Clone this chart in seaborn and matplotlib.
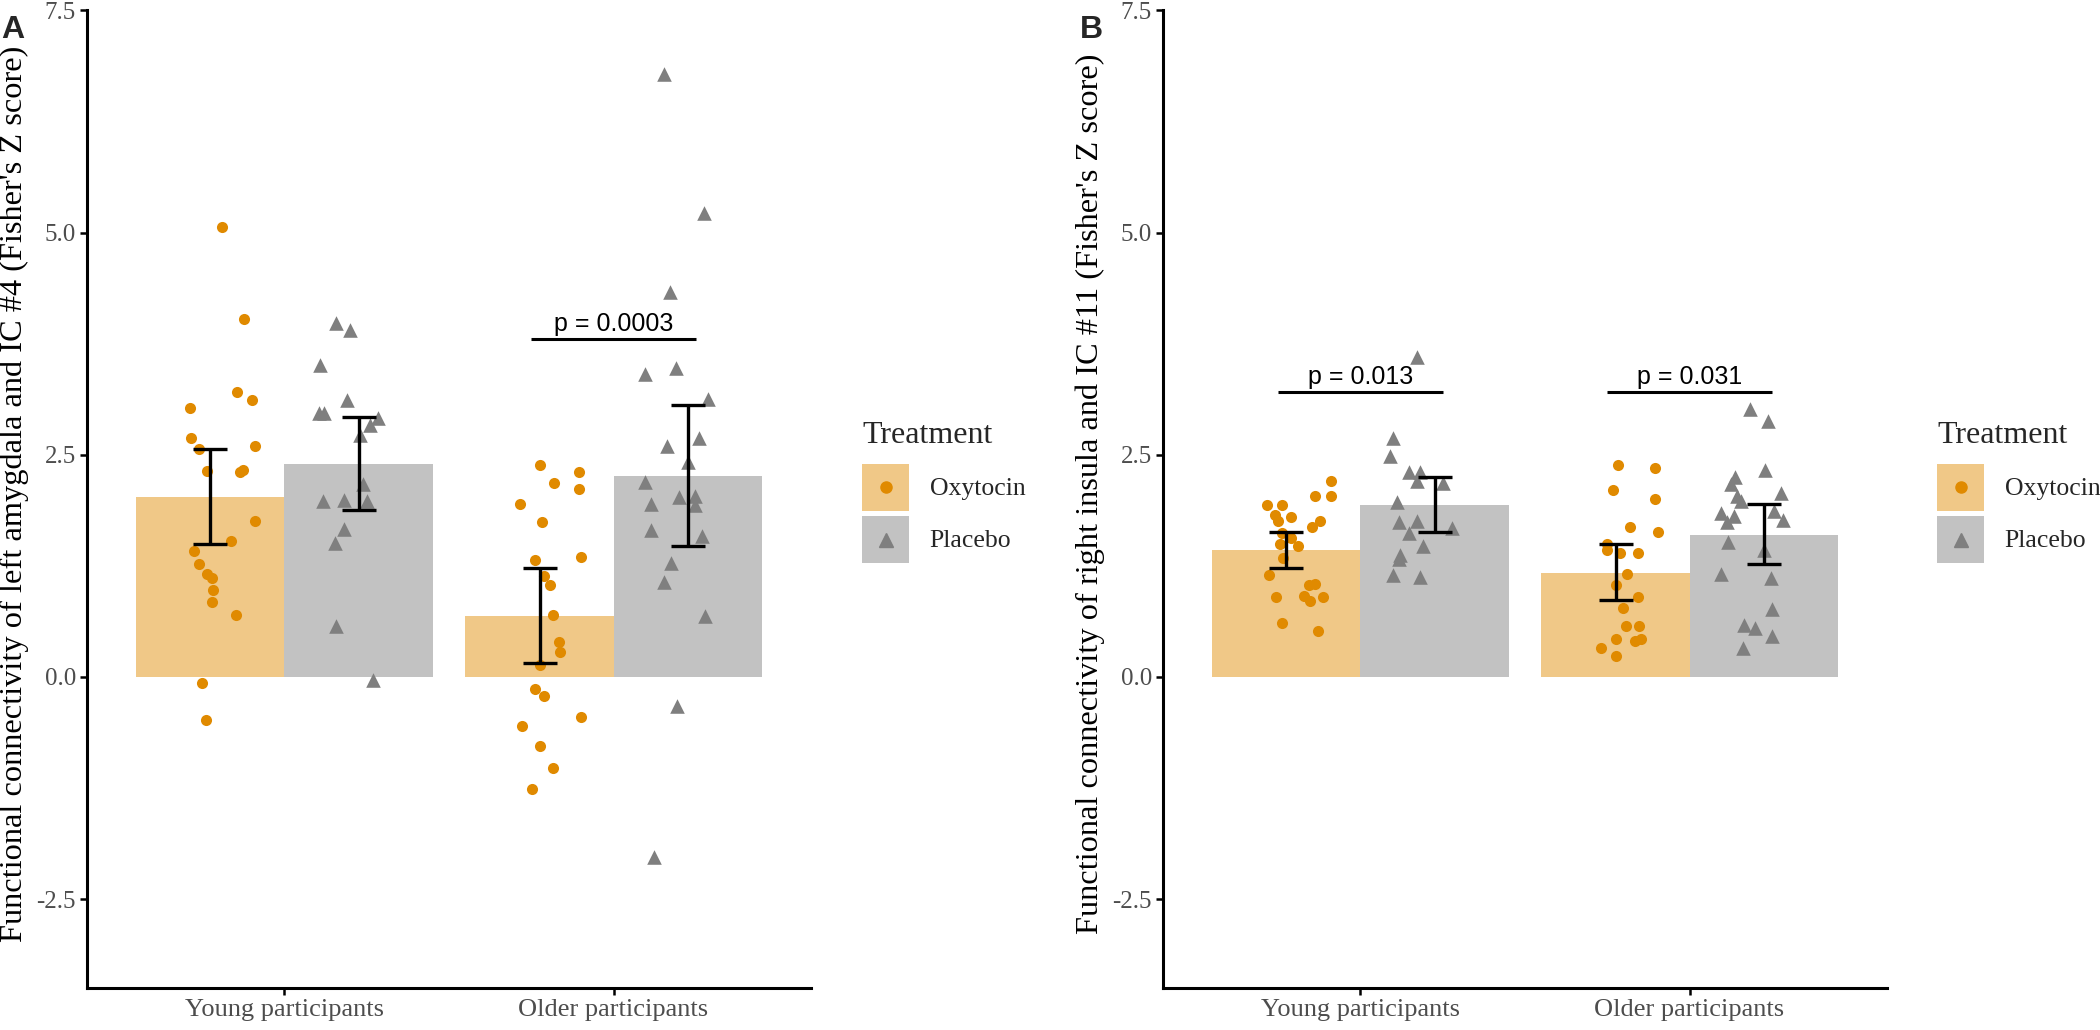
import numpy as np
import pandas as pd
import matplotlib
matplotlib.use("Agg")
import matplotlib.pyplot as plt
import seaborn as sns
from matplotlib.patches import Rectangle
from matplotlib.lines import Line2D
from matplotlib.legend_handler import HandlerBase

# ---------------- data ----------------
groups = ["Young participants", "Older participants"]
treatments = ["Oxytocin", "Placebo"]
yticks = [-2.5, 0.0, 2.5, 5.0, 7.5]

# Panel A: bar means and error-bar bounds (order: young, older)
a_mean_oxy = [2.02, 0.69]
a_mean_pla = [2.40, 2.26]
a_lo_oxy = [1.50, 0.16]
a_hi_oxy = [2.56, 1.23]
a_lo_pla = [1.88, 1.47]
a_hi_pla = [2.92, 3.06]

# Panel A individual points (values and horizontal jitter as fraction of bar width)
a_young_oxy = [5.06, 4.03, 3.20, 3.11, 3.03, 2.69, 2.56, 2.60, 2.32, 2.30, 2.33,
               1.75, 1.53, 1.42, 1.27, 1.16, 1.11, 0.98, 0.84, 0.70, -0.07, -0.48]
a_young_oxy_jit = [0.08, 0.23, 0.18, 0.28, -0.14, -0.13, -0.08, 0.30, -0.02, 0.20, 0.22,
                   0.30, 0.14, -0.11, -0.08, -0.02, 0.01, 0.02, 0.01, 0.17, -0.06, -0.03]
a_young_pla = [3.98, 3.90, 3.51, 3.11, 2.97, 2.97, 2.91, 2.83, 2.72, 2.17, 1.98,
               1.99, 1.98, 1.66, 1.51, 0.57, -0.03]
a_young_pla_jit = [-0.15, -0.06, -0.26, -0.08, -0.27, -0.23, 0.13, 0.08, 0.01, 0.03, -0.24,
                   -0.10, 0.06, -0.10, -0.16, -0.15, 0.10]
a_older_oxy = [2.38, 2.31, 2.18, 2.11, 1.95, 1.74, 1.32, 1.35, 1.14, 1.03, 0.70,
               0.39, 0.28, 0.13, -0.14, -0.21, -0.45, -0.55, -0.78, -1.02, -1.26]
a_older_oxy_jit = [0.00, 0.27, 0.10, 0.27, -0.13, 0.02, -0.03, 0.28, 0.03, 0.07, 0.09,
                   0.13, 0.14, 0.00, -0.03, 0.03, 0.28, -0.12, 0.00, 0.09, -0.05]
a_older_pla = [6.78, 5.22, 4.33, 3.41, 3.47, 3.13, 2.69, 2.60, 2.42, 2.19, 2.02,
               2.03, 1.95, 1.93, 1.65, 1.59, 1.28, 1.07, 0.68, -0.33, -2.03]
a_older_pla_jit = [-0.16, 0.11, -0.12, -0.29, -0.08, 0.14, 0.08, -0.14, 0.00, -0.29, -0.06,
                   0.05, -0.25, 0.05, -0.25, 0.10, -0.11, -0.16, 0.12, -0.07, -0.23]

# Panel B
b_mean_oxy = [1.43, 1.17]
b_mean_pla = [1.93, 1.60]
b_lo_oxy = [1.22, 0.87]
b_hi_oxy = [1.63, 1.49]
b_lo_pla = [1.63, 1.27]
b_hi_pla = [2.25, 1.94]

b_young_oxy = [2.20, 2.03, 2.03, 1.93, 1.93, 1.82, 1.80, 1.75, 1.75, 1.69, 1.62, 1.56,
               1.50, 1.47, 1.34, 1.15, 1.03, 1.05, 0.90, 0.91, 0.90, 0.85, 0.61, 0.52]
b_young_oxy_jit = [0.30, 0.19, 0.30, -0.13, -0.03, -0.08, 0.03, -0.06, 0.23, 0.17, -0.03, 0.03,
                   -0.04, 0.08, -0.02, -0.12, 0.15, 0.19, -0.07, 0.12, 0.25, 0.16, -0.03, 0.21]
b_young_pla = [3.60, 2.69, 2.48, 2.31, 2.31, 2.20, 2.18, 1.97, 1.74, 1.75, 1.62, 1.67,
               1.47, 1.37, 1.33, 1.15, 1.12]
b_young_pla_jit = [-0.12, -0.28, -0.30, -0.17, -0.10, -0.12, 0.06, -0.25, -0.24, -0.12, -0.17, 0.12,
                   -0.08, -0.23, -0.24, -0.28, -0.10]
b_older_oxy = [2.38, 2.35, 2.10, 2.00, 1.69, 1.63, 1.50, 1.43, 1.39, 1.39, 1.16,
               1.03, 0.90, 0.78, 0.57, 0.57, 0.43, 0.40, 0.43, 0.33, 0.24]
b_older_oxy_jit = [0.02, 0.27, -0.02, 0.27, 0.10, 0.29, -0.06, -0.06, 0.03, 0.15, 0.08,
                   0.00, 0.15, 0.05, 0.07, 0.16, 0.00, 0.13, 0.17, -0.10, 0.00]
b_older_pla = [3.01, 2.88, 2.33, 2.25, 2.17, 2.07, 2.03, 1.98, 1.87, 1.84, 1.81,
               1.76, 1.74, 1.52, 1.43, 1.16, 1.11, 0.76, 0.58, 0.55, 0.46, 0.32]
b_older_pla_jit = [-0.09, 0.03, 0.01, -0.19, -0.22, 0.12, -0.18, -0.15, 0.07, -0.29, -0.20,
                   0.13, -0.25, -0.24, 0.00, -0.29, 0.05, 0.06, -0.13, -0.06, 0.06, -0.14]

# significance annotations (per group)
a_ptext = [None, "p = 0.0003"]
a_pline = [None, 3.80]
b_ptext = ["p = 0.013", "p = 0.031"]
b_pline = [3.20, 3.20]

a_ylabel = "Functional connectivity of left amygdala and IC #4 (Fisher's Z score)"
b_ylabel = "Functional connectivity of right insula and IC #11 (Fisher's Z score)"

# ---------------- style ----------------
ORANGE_PT = "#E08A00"
ORANGE_BAR = "#F0C887"
GRAY_PT = "#7F7F7F"
GRAY_BAR = "#C2C2C2"
TICK_COL = "#4D4D4D"

sns.set_style("ticks")
plt.rcParams["font.family"] = ["Liberation Serif", "DejaVu Serif"]
plt.rcParams["axes.unicode_minus"] = False

W, H = 2100, 1030
fig = plt.figure(figsize=(W / 100, H / 100), dpi=100)

ax_bottom = 1 - 988 / H
ax_height = (988 - 10.3) / H
ax_w = 724 / W
axA = fig.add_axes([87 / W, ax_bottom, ax_w, ax_height])
axB = fig.add_axes([1163 / W, ax_bottom, ax_w, ax_height])


class Key:
    def __init__(self, face, mcol, marker, ms):
        self.spec = (face, mcol, marker, ms)


class KeyHandler(HandlerBase):
    def create_artists(self, legend, orig_handle, xdescent, ydescent, width, height, fontsize, trans):
        face, mcol, mk, ms = orig_handle.spec
        r = Rectangle((-xdescent, -ydescent), width, height, facecolor=face,
                      edgecolor="none", transform=trans)
        m = Line2D([-xdescent + width / 2], [-ydescent + height / 2], marker=mk,
                   color=mcol, markersize=ms, linestyle="none", transform=trans)
        return [r, m]


def draw_panel(ax, mean_oxy, mean_pla, lo_oxy, hi_oxy, lo_pla, hi_pla, pts, ylabel,
               ptext, pline, legend_x):
    df = pd.DataFrame({
        "group": groups + groups,
        "treatment": ["Oxytocin"] * 2 + ["Placebo"] * 2,
        "value": list(mean_oxy) + list(mean_pla),
    })
    sns.barplot(data=df, x="group", y="value", hue="treatment", order=groups,
                hue_order=treatments, palette=[ORANGE_BAR, GRAY_BAR], saturation=1,
                width=0.9, errorbar=None, legend=False, linewidth=0, ax=ax, zorder=1)
    means = {"Oxytocin": mean_oxy, "Placebo": mean_pla}
    los = {"Oxytocin": lo_oxy, "Placebo": lo_pla}
    his = {"Oxytocin": hi_oxy, "Placebo": hi_pla}
    style = {"Oxytocin": ("o", 64, ORANGE_PT), "Placebo": ("^", 110, GRAY_PT)}
    for ti, t in enumerate(treatments):
        for gi, g in enumerate(groups):
            bar = ax.containers[ti][gi]
            w = bar.get_width()
            cx = bar.get_x() + w / 2
            vals, jit = pts[(g, t)]
            mk, s, col = style[t]
            ax.scatter(cx + np.asarray(jit) * w, vals, marker=mk, s=s, color=col,
                       linewidths=0, zorder=3)
            m = means[t][gi]
            ax.errorbar([cx], [m], yerr=[[m - los[t][gi]], [his[t][gi] - m]], fmt="none",
                        ecolor="black", elinewidth=2.4, capsize=12, capthick=2.4, zorder=4)
    for gi in range(len(groups)):
        if ptext[gi] is None:
            continue
        ax.plot([gi - 0.25, gi + 0.25], [pline[gi], pline[gi]], color="black", lw=2.2,
                solid_capstyle="butt", zorder=5)
        ax.text(gi, pline[gi] + 0.09, ptext[gi], ha="center", va="baseline",
                fontsize=18, family=["Liberation Sans", "DejaVu Sans"], color="black")

    ax.set_xlim(-0.6, 1.6)
    ax.set_ylim(-3.5, 7.5)
    ax.set_yticks(yticks)
    ax.set_yticklabels([f"{v:.1f}" for v in yticks])
    ax.set_xlabel("")
    ax.set_ylabel(ylabel, fontsize=23.3, color="black")
    ax.yaxis.set_label_coords(-0.080, 0.505)
    sns.despine(ax=ax)
    for sp in ("left", "bottom"):
        ax.spines[sp].set_linewidth(2.2)
        ax.spines[sp].set_color("black")
    ax.tick_params(axis="both", length=5, width=1.8, color="black", labelcolor=TICK_COL,
                   direction="out", pad=3)
    ax.tick_params(axis="x", labelsize=19)
    ax.tick_params(axis="y", labelsize=18)

    handles = [Key(ORANGE_BAR, ORANGE_PT, "o", 8), Key(GRAY_BAR, GRAY_PT, "^", 10.5)]
    leg = fig.legend(handles, treatments, handler_map={Key: KeyHandler()},
                     loc="upper left", bbox_to_anchor=(legend_x / W, 1 - 421 / H),
                     bbox_transform=fig.transFigure, frameon=False, borderpad=0,
                     borderaxespad=0, title="Treatment", title_fontsize=23, fontsize=18.5,
                     handlelength=1.83, handleheight=2.44, labelspacing=0.2,
                     handletextpad=0.8, alignment="left")
    leg._legend_box.sep = 10


draw_panel(axA, a_mean_oxy, a_mean_pla, a_lo_oxy, a_hi_oxy, a_lo_pla, a_hi_pla,
           {(groups[0], "Oxytocin"): (a_young_oxy, a_young_oxy_jit),
            (groups[0], "Placebo"): (a_young_pla, a_young_pla_jit),
            (groups[1], "Oxytocin"): (a_older_oxy, a_older_oxy_jit),
            (groups[1], "Placebo"): (a_older_pla, a_older_pla_jit)},
           a_ylabel, a_ptext, a_pline, 862)
draw_panel(axB, b_mean_oxy, b_mean_pla, b_lo_oxy, b_hi_oxy, b_lo_pla, b_hi_pla,
           {(groups[0], "Oxytocin"): (b_young_oxy, b_young_oxy_jit),
            (groups[0], "Placebo"): (b_young_pla, b_young_pla_jit),
            (groups[1], "Oxytocin"): (b_older_oxy, b_older_oxy_jit),
            (groups[1], "Placebo"): (b_older_pla, b_older_pla_jit)},
           b_ylabel, b_ptext, b_pline, 1937)

for x, lab in ((1, "A"), (1080, "B")):
    fig.text(x / W, 1 - 38 / H, lab, ha="left", va="baseline", fontsize=23,
             fontweight="bold", family=["Liberation Sans", "DejaVu Sans"])

fig.savefig("out.png", dpi=100)
